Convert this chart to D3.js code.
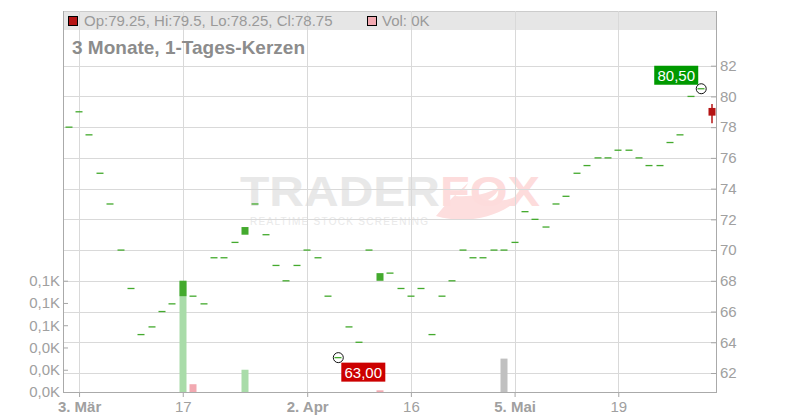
<!DOCTYPE html>
<html><head><meta charset="utf-8">
<script src="https://cdn.jsdelivr.net/npm/d3@7"></script>
<style>body{margin:0;background:#fff}svg{display:block;font-family:"Liberation Sans",Arial,sans-serif}</style>
</head><body><svg id="c" width="800" height="420"></svg>
<script>
const dates = ["2025-02-28",
"2025-03-03","2025-03-04","2025-03-05","2025-03-06","2025-03-07",
"2025-03-10","2025-03-11","2025-03-12","2025-03-13","2025-03-14",
"2025-03-17","2025-03-18","2025-03-19","2025-03-20","2025-03-21",
"2025-03-24","2025-03-25","2025-03-26","2025-03-27","2025-03-28",
"2025-03-31","2025-04-01","2025-04-02","2025-04-03","2025-04-04",
"2025-04-07","2025-04-08","2025-04-09","2025-04-10","2025-04-11",
"2025-04-14","2025-04-15","2025-04-16","2025-04-17",
"2025-04-22","2025-04-23","2025-04-24","2025-04-25",
"2025-04-28","2025-04-29","2025-04-30","2025-05-02",
"2025-05-05","2025-05-06","2025-05-07","2025-05-08","2025-05-09",
"2025-05-12","2025-05-13","2025-05-14","2025-05-15","2025-05-16",
"2025-05-19","2025-05-20","2025-05-21","2025-05-22","2025-05-23",
"2025-05-26","2025-05-27","2025-05-28","2025-05-29","2025-05-30"];
const closes = [78,79,77.5,75,73,70,67.5,64.5,65,66,66.5,68,67,66.5,69.5,69.5,70.5,71.5,73,71,69,68,69,70,69.5,67,63,65,64,70,68.5,68.5,67.5,67,67.5,64.5,67,68,70,69.5,69.5,70,70,70.5,72.5,72,71.5,73,73.5,75,75.5,76,76,76.5,76.5,76,75.5,75.5,77,77.5,80,80.5,78.75];
const opens = closes.map(v=>v);
opens[11]=67; opens[17]=71; opens[30]=68; opens[62]=79.25;
const highs = closes.map((v,i)=>Math.max(v,opens[i]));
highs[62]=79.5;
const lows = closes.map((v,i)=>Math.min(v,opens[i]));
lows[62]=78.25;
const volumes = closes.map(()=>0);
volumes[11]=100; volumes[12]=7; volumes[17]=20; volumes[30]=1.5; volumes[42]=30; volumes[62]=0;
const priceTicks = [62,64,66,68,70,72,74,76,78,80,82];
const volTicks = [0,20,40,60,80,100];
const xTicks = [["2025-03-03","3. Mär",true],["2025-03-17","17",false],["2025-04-02","2. Apr",true],["2025-04-16","16",false],["2025-05-05","5. Mai",true],["2025-05-19","19",false]];
const lowMark = {date:"2025-04-07", value:63, label:"63,00"};
const highMark = {date:"2025-05-29", value:80.5, label:"80,50"};
const legendText = "Op:79.25, Hi:79.5, Lo:78.25, Cl:78.75";
const volText = "Vol: 0K";
const title = "3 Monate, 1-Tages-Kerzen";

const svg = d3.select("#c");
const L=63, R=716, T=11, B=392;
const x = d3.scalePoint().domain(dates).range([68.7,711.6]);
const y = d3.scaleLinear().domain([62,82]).range([373,65.7]);
const yv = d3.scaleLinear().domain([0,100]).range([B,280.7]);
const GREEN="#44aa2e", RED="#b51414";

// watermark
const wm = svg.append("g");
wm.append("path").attr("d","M436,216 C470,226 508,216 530,188 C516,199 501,203 488,200 C494,196 498,192 500,187 C485,195 470,197 455,196 C462,192 466,188 468,183 C458,192 446,203 436,216 Z").attr("fill","#fddede");
wm.append("text").attr("x",240).attr("y",206).attr("font-size",42).attr("font-weight","bold")
  .attr("textLength",200).attr("lengthAdjust","spacingAndGlyphs").attr("fill","#e8e8e8").text("TRADER");
wm.append("text").attr("x",440).attr("y",206).attr("font-size",42).attr("font-weight","bold")
  .attr("textLength",100).attr("lengthAdjust","spacingAndGlyphs").attr("fill","#fddcdc").text("FOX");
wm.append("text").attr("x",250).attr("y",225).attr("font-size",10).attr("textLength",178)
  .attr("fill","#e9e9e9").text("REALTIME STOCK SCREENING");

// legend band
svg.append("rect").attr("x",L).attr("y",T).attr("width",R-L).attr("height",19).attr("fill","#e6e6e6");
svg.append("line").attr("x1",L).attr("x2",R).attr("y1",T+0.5).attr("y2",T+0.5).attr("stroke","#cccccc");

// grid
const grid = svg.append("g").attr("stroke","#d9d9d9").attr("stroke-width",1);
priceTicks.forEach(v=>{const yy=Math.round(y(v))+0.5; grid.append("line").attr("x1",L).attr("x2",R).attr("y1",yy).attr("y2",yy);});
xTicks.forEach(t=>{const xx=Math.round(x(t[0]))+0.5; grid.append("line").attr("x1",xx).attr("x2",xx).attr("y1",T).attr("y2",B);});

// volume bars
const volColor = i => i===0 ? "#c0c0c0" : (closes[i]>closes[i-1] ? "#a9dca9" : (closes[i]<closes[i-1] ? "#f2a9b1" : "#c0c0c0"));
svg.append("g").selectAll("rect").data(dates.map((d,i)=>i).filter(i=>volumes[i]>0)).join("rect")
  .attr("x",i=>Math.round(x(dates[i]))-3.5).attr("width",7)
  .attr("y",i=>yv(volumes[i])).attr("height",i=>B-yv(volumes[i])).attr("fill",volColor);

// candles
const cg = svg.append("g");
dates.forEach((d,i)=>{
  const cx=Math.round(x(d));
  const col = closes[i]<opens[i]?RED:GREEN;
  if(highs[i]>Math.max(opens[i],closes[i])||lows[i]<Math.min(opens[i],closes[i]))
    cg.append("line").attr("x1",cx).attr("x2",cx).attr("y1",y(highs[i])).attr("y2",y(lows[i])).attr("stroke",col).attr("stroke-width",1.5);
  const top=y(Math.max(opens[i],closes[i])), bot=y(Math.min(opens[i],closes[i]));
  const h=Math.max(1.3,bot-top);
  cg.append("rect").attr("x",cx-3.5).attr("width",7).attr("y",h>1.3?top:top-0.65).attr("height",h).attr("fill",col);
});

// axes
const axRight = svg.append("g").attr("transform",`translate(${R},0)`)
  .call(d3.axisRight(y).tickValues(priceTicks).tickSize(-5).tickPadding(4).tickFormat(d=>d));
const axLeft = svg.append("g").attr("transform",`translate(${L},0)`)
  .call(d3.axisLeft(yv).tickValues(volTicks).tickSize(-5).tickPadding(3).tickFormat(d=>(d/1000).toFixed(1).replace(".",",")+"K"));
const axBot = svg.append("g").attr("transform",`translate(0,${B})`)
  .call(d3.axisBottom(x).tickValues(xTicks.map(t=>t[0])).tickSize(5).tickPadding(4).tickFormat((d,i)=>xTicks[i][1]));
[axRight,axLeft,axBot].forEach(a=>{
  a.selectAll("path.domain").remove();
  a.selectAll("line").attr("stroke","#a6a6a6");
  a.selectAll("text").attr("fill","#a0a0a0").attr("font-size",15).attr("font-family","Liberation Sans, Arial, sans-serif");
});
axBot.selectAll("text").attr("font-weight",(d,i)=>xTicks[i][2]?"bold":"normal");
const frame = svg.append("g").attr("stroke","#aaaaaa").attr("fill","none");
frame.append("line").attr("x1",L+0.5).attr("x2",L+0.5).attr("y1",T).attr("y2",B+0.5);
frame.append("line").attr("x1",R+0.5).attr("x2",R+0.5).attr("y1",T).attr("y2",B+0.5);
frame.append("line").attr("x1",L).attr("x2",R+1).attr("y1",B+0.5).attr("y2",B+0.5);

// markers
function marker(m, col, below){
  const cx=x(m.date), cy=y(m.value);
  svg.append("circle").attr("cx",cx).attr("cy",cy).attr("r",5).attr("fill","none").attr("stroke","#111").attr("stroke-width",1);
  const w=44,h=19;
  const bx = below ? cx+3 : cx-3-w;
  const by = below ? cy+5 : cy-4-h;
  svg.append("rect").attr("x",bx).attr("y",by).attr("width",w).attr("height",h).attr("fill",col);
  svg.append("text").attr("x",bx+w/2).attr("y",by+15).attr("text-anchor","middle").attr("fill","#fff").attr("font-size",15).text(m.label);
}
marker(lowMark,"#cc0000",true);
marker(highMark,"#009900",false);

// legend
svg.append("rect").attr("x",68.5).attr("y",16.5).attr("width",9).attr("height",9).attr("fill",RED).attr("stroke","#000");
svg.append("text").attr("x",84).attr("y",26).attr("font-size",15).attr("fill","#9a9a9a").text(legendText);
svg.append("rect").attr("x",367.5).attr("y",16.5).attr("width",9).attr("height",9).attr("fill","#f2a9b1").attr("stroke","#000");
svg.append("text").attr("x",382).attr("y",26).attr("font-size",15).attr("fill","#9a9a9a").text(volText);
svg.append("text").attr("x",72).attr("y",54).attr("font-size",19).attr("font-weight","bold").attr("fill","#8c8c8c").text(title);
</script></body></html>
